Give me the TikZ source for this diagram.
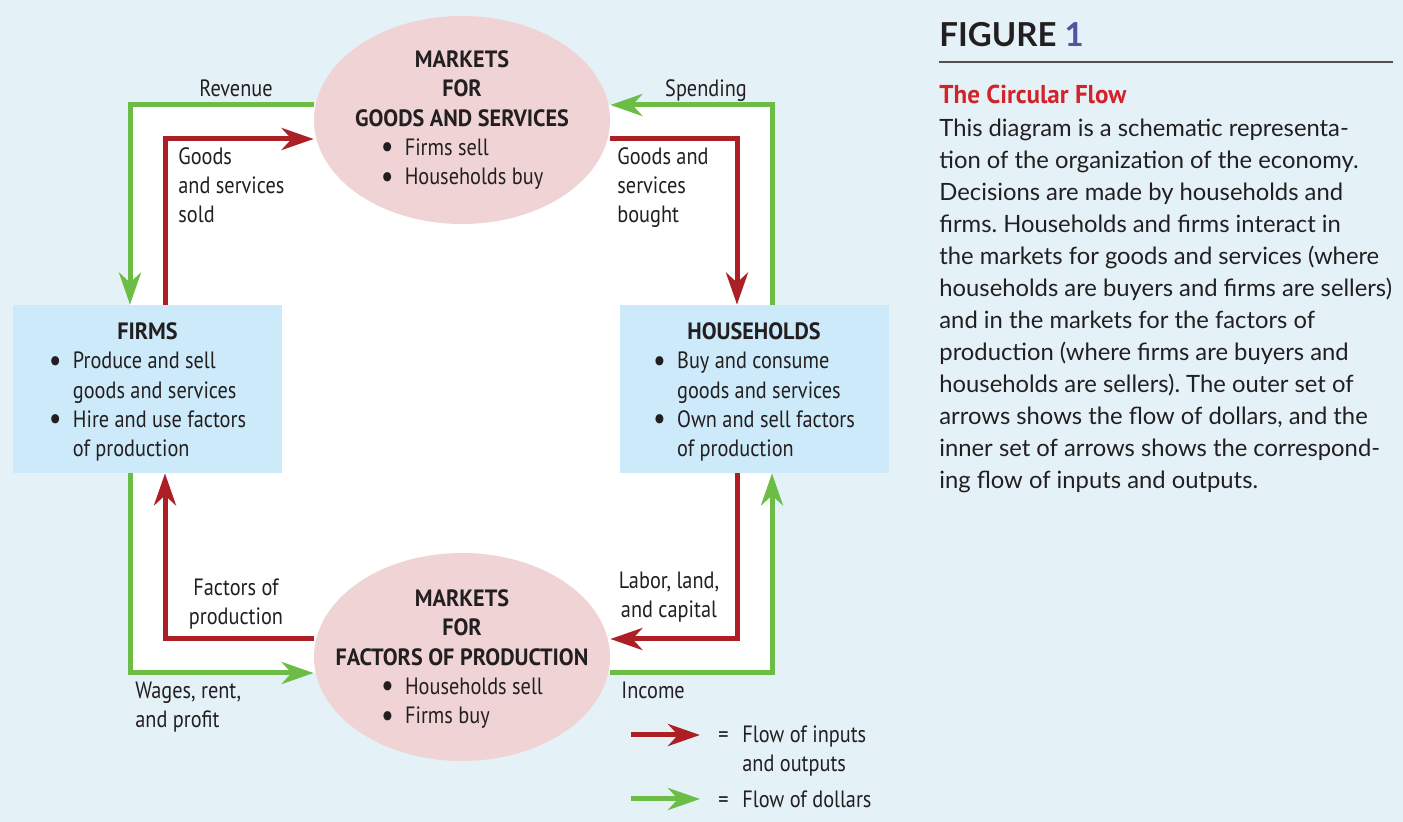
\documentclass[tikz,border=0pt]{standalone}
\usepackage{fontspec}
\usepackage{graphicx}
\setmainfont{PT Sans}[FakeStretch=0.86]
\newfontfamily\markfont{PT Sans}[FakeStretch=0.94]
\newfontfamily\captionfont{Lato}
\newfontfamily\headfont{PT Sans}[FakeStretch=0.97]
\usetikzlibrary{arrows.meta,shapes.geometric}

\definecolor{paper}{HTML}{E4F2F8}
\definecolor{boxblue}{HTML}{CCEAF9}
\definecolor{marketpink}{HTML}{F0D4D5}
\definecolor{flowred}{HTML}{AC1F24}
\definecolor{flowgreen}{HTML}{6BBD45}
\definecolor{ink}{HTML}{231F20}
\definecolor{headred}{HTML}{D2232A}
\definecolor{figblue}{HTML}{5055A3}
\definecolor{rulegrey}{HTML}{505050}

\pgfdeclarelayer{back}
\pgfdeclarelayer{flows}
\pgfsetlayers{back,flows,main}

\newcommand\bul{\smash{\raisebox{-1.3pt}{\scalebox{1.4}{\textbullet}}}}
\newcommand\hd[1]{{\markfont\bfseries #1}}
\frenchspacing

\tikzset{
  diag/.style={font=\fontsize{11.8pt}{14.6pt}\selectfont, text=ink},
  market/.style={ellipse, fill=marketpink, minimum width=148pt, minimum height=104pt, inner sep=0pt},
  agent/.style={rectangle, fill=boxblue, minimum width=134.5pt, minimum height=84pt, inner sep=0pt},
  blocktext/.style={diag, inner sep=0pt, align=center},
  lab/.style={diag, inner sep=0pt, align=left},
  flowline/.style={line width=2.5pt, line join=miter, -{Stealth[length=16pt,width=11pt,inset=5pt]}},
  goodsflow/.style={flowline, draw=flowred},
  dollarflow/.style={flowline, draw=flowgreen},
}

\begin{document}
\begin{tikzpicture}[x=0.5pt, y=-0.5pt]
\useasboundingbox (0,0) rectangle (1403,822);

% corners of the two loops
\coordinate (gTL) at (130,105);
\coordinate (gTR) at (772,105);
\coordinate (gBL) at (130,673);
\coordinate (gBR) at (772,673);
\coordinate (rTL) at (165,139);
\coordinate (rTR) at (737,139);
\coordinate (rBL) at (165,639);
\coordinate (rBR) at (737,639);

\begin{pgfonlayer}{back}
  \fill[paper] (0,0) rectangle (1403,822);
  \fill[white] (gTL) rectangle (gBR);
\end{pgfonlayer}

% markets and agents
\node[market] (goods) at (462,120) {};
\node[blocktext] (goodstext) at ([yshift=-1pt]goods.center) {\hd{MARKETS}\\ \hd{FOR}\\ \hd{GOODS AND SERVICES}\\
  \begin{tabular}[t]{@{}p{12pt}@{}l@{}}\bul & Firms sell\\ \bul & Households buy\end{tabular}};
\node[market] (factors) at (462,657) {};
\node[blocktext] (factorstext) at ([yshift=-2pt]factors.center) {\hd{MARKETS}\\ \hd{FOR}\\ \hd{FACTORS OF PRODUCTION}\\
  \begin{tabular}[t]{@{}p{12pt}@{}l@{}}\bul & Households sell\\ \bul & Firms buy\end{tabular}};
\node[agent] (firms) at (147.5,389) {};
\node[blocktext] (firmstext) at ([yshift=-2.5pt]firms.center) {\hd{FIRMS}\\
  \begin{tabular}[t]{@{}p{12pt}@{}l@{}}\bul & Produce and sell\\ & goods and services\\ \bul & Hire and use factors\\ & of production\end{tabular}};
\node[agent] (households) at (754,389) {};
\node[blocktext] (householdstext) at ([yshift=-2.5pt]households.center) {\hd{HOUSEHOLDS}\\
  \begin{tabular}[t]{@{}p{12pt}@{}l@{}}\bul & Buy and consume\\ & goods and services\\ \bul & Own and sell factors\\ & of production\end{tabular}};

% flows
\begin{pgfonlayer}{flows}
  \draw[dollarflow] (goods.west |- gTL) -- (gTL) -- (firms.north -| gTL);
  \draw[dollarflow] (households.north -| gTR) -- (gTR) -- (goods.east |- gTR);
  \draw[dollarflow] (factors.east |- gBR) -- (gBR) -- (households.south -| gBR);
  \draw[dollarflow] (firms.south -| gBL) -- (gBL) -- (factors.west |- gBL);
  \draw[goodsflow] (firms.north -| rTL) -- (rTL) -- (goods.west |- rTL);
  \draw[goodsflow] (goods.east |- rTR) -- (rTR) -- (households.north -| rTR);
  \draw[goodsflow] (households.south -| rBR) -- (rBR) -- (factors.east |- rBR);
  \draw[goodsflow] (factors.west |- rBL) -- (rBL) -- (firms.south -| rBL);
\end{pgfonlayer}

% flow labels (base = last line)
\node[lab, anchor=base] (revenue) at (236,97) {Revenue};
\node[lab, anchor=base] (spending) at (706,97) {Spending};
\node[lab, anchor=base west] (sold) at (178,223) {Goods\\and services\\sold};
\node[lab, anchor=base west] (bought) at (617,223) {Goods and\\services\\bought};
\node[lab, anchor=base, align=center] (inputs) at (236,625) {Factors of\\production};
\node[lab, anchor=base, align=center] (labor) at (669,618) {Labor, land,\\and capital};
\node[lab, anchor=base west] (wages) at (135,728) {Wages, rent,\\and profit};
\node[lab, anchor=base west] (income) at (621,699) {Income};

% key
\coordinate (kinS) at (631,735);
\coordinate (kinE) at (700,735);
\coordinate (koutS) at (631,799);
\coordinate (koutE) at (700,799);
\draw[goodsflow] (kinS) -- (kinE);
\draw[dollarflow] (koutS) -- (koutE);
\node[lab, anchor=base west] (keyin) at (718,772) {\makebox[12pt][l]{=}Flow of inputs\\\hspace*{12pt}and outputs};
\node[lab, anchor=base west] (keyout) at (718,807) {\makebox[12pt][l]{=}Flow of dollars};

% caption
\node[anchor=base west, inner sep=0pt, text=ink, font=\captionfont\bfseries\fontsize{16.5pt}{18pt}\selectfont] (fig) at (939,47) {FIGURE \textcolor{figblue}{1}};
\coordinate (ruleend) at (1393,62);
\draw[rulegrey, line width=1pt] (fig.west |- ruleend) -- (ruleend);
\node[anchor=base west, inner sep=0pt, text=headred, font=\headfont\bfseries\fontsize{12.9pt}{16pt}\selectfont] (title) at (939,104) {The Circular Flow};
\node[anchor=base west, inner sep=0pt, align=left, text=ink, font=\captionfont\fontsize{11.9pt}{16pt}\selectfont] (caption) at (939,489) {This diagram is a schematic representa-\\
tion of the organization of the economy.\\
Decisions are made by households and\\
firms. Households and firms interact in\\
the markets for goods and services (where\\
households are buyers and firms are sellers)\\
and in the markets for the factors of\\
production (where firms are buyers and\\
households are sellers). The outer set of\\
arrows shows the flow of dollars, and the\\
inner set of arrows shows the correspond-\\
ing flow of inputs and outputs.};
\end{tikzpicture}
\end{document}
